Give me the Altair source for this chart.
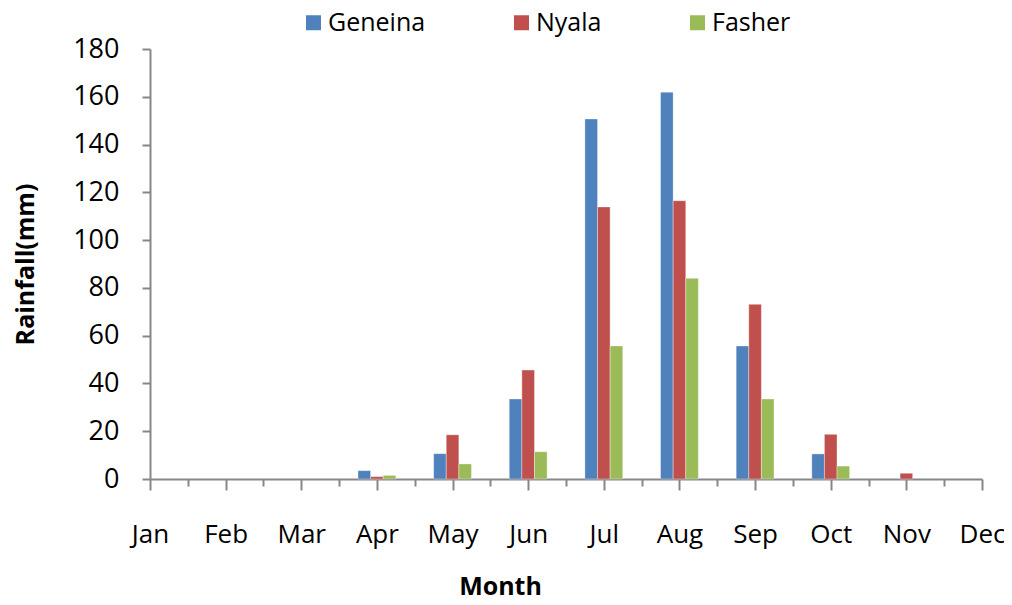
import json
import altair as alt
import pandas as pd

months = ["Jan", "Feb", "Mar", "Apr", "May", "Jun", "Jul", "Aug", "Sep", "Oct", "Nov", "Dec"]
series = ["Geneina", "Nyala", "Fasher"]
geneina = [0, 0, 0, 3.5, 10.6, 33.5, 150.7, 161.9, 55.7, 10.5, 0, 0]
nyala = [0, 0, 0, 1.0, 18.5, 45.6, 113.9, 116.5, 73.1, 18.7, 2.4, 0]
fasher = [0, 0, 0, 1.5, 6.3, 11.4, 55.7, 84.0, 33.5, 5.4, 0, 0]
colors = ["#4F81BD", "#C0504D", "#9BBB59"]
y_ticks = [0, 20, 40, 60, 80, 100, 120, 140, 160, 180]

rows = []
for name, vals in zip(series, [geneina, nyala, fasher]):
    for i, (m, v) in enumerate(zip(months, vals)):
        rows.append({"month": m, "idx": i, "series": name, "value": v})
df = pd.DataFrame(rows)

FONT = "Open Sans"
AX = "#878787"
month_arr = json.dumps(months).replace('"', "'")
series_arr = json.dumps(series).replace('"', "'")

x_axis = alt.Axis(
    values=[i * 0.5 for i in range(23)],
    labelExpr=f"datum.value % 1 == 0 ? {month_arr}[datum.value] : ''",
    tickSize={"condition": {"test": "datum.value % 1 == 0", "value": 11}, "value": 7},
    grid=False,
    domainColor=AX, domainWidth=2, tickColor=AX, tickWidth=2,
    labelFont=FONT, labelFontSize=26, labelColor="black", labelPadding=31,
    labelFlush=False, labelOverlap=False, labelBound=False,
    title="Month", titleFont=FONT, titleFontSize=25, titleFontWeight="bold",
    titleColor="black", titleX=350, titleY=115, titleBaseline="alphabetic",
    titleAlign="center", titleAnchor="start",
)

y_axis = alt.Axis(
    values=y_ticks, grid=False,
    domainColor=AX, domainWidth=2, tickColor=AX, tickWidth=2, tickSize=8,
    labelFont=FONT, labelFontSize=27, labelColor="black", labelPadding=23,
    title="Rainfall(mm)", titleFont=FONT, titleFontSize=25, titleFontWeight="bold",
    titleColor="black", titleX=-117, titleY=215, titleBaseline="alphabetic",
    titleAngle=-90, titleAlign="center", titleAnchor="start",
)

chart = (
    alt.Chart(df)
    .transform_filter("datum.value > 0")
    .transform_calculate(
        s=f"indexof({series_arr}, datum.series)",
    )
    .transform_calculate(
        x0="datum.idx + (datum.s - 1.5) / 6",
        x1="datum.idx + (datum.s - 0.5) / 6",
    )
    .mark_bar(stroke="white", strokeWidth=1, strokeOpacity=0.35)
    .encode(
        x=alt.X("x0:Q", scale=alt.Scale(domain=[0, 11], nice=False, zero=False), axis=x_axis),
        x2="x1:Q",
        y=alt.Y("value:Q", scale=alt.Scale(domain=[0, 180], nice=False), axis=y_axis),
        y2=alt.datum(0),
        color=alt.Color(
            "series:N",
            scale=alt.Scale(domain=series, range=colors),
            legend=alt.Legend(
                orient="none", legendX=151, legendY=-39, direction="horizontal",
                title=None, symbolType="square", symbolSize=225, symbolStrokeWidth=0,
                labelFont=FONT, labelFontSize=25, labelColor="black", labelOffset=2,
                columnPadding=83,
            ),
        ),
    )
    .properties(
        width=832, height=430,
        autosize=alt.AutoSizeParams(type="none"),
        padding={"left": 142, "top": 41, "right": 22, "bottom": 118},
    )
    .configure_view(stroke=None)
)

chart.save("out.html", embed_options={"renderer": "svg", "actions": False})
